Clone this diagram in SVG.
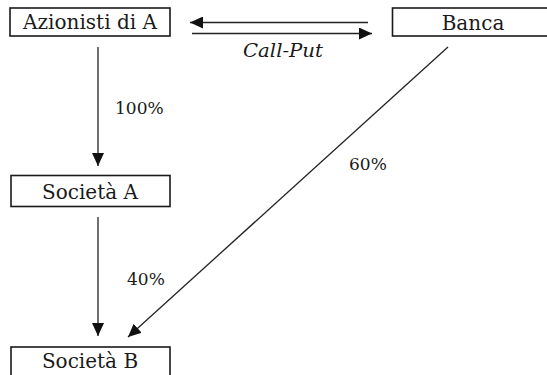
<svg xmlns="http://www.w3.org/2000/svg" width="547" height="375" viewBox="0 0 547 375">
  <style>
    .box { fill: #fff; stroke: #1a1a1a; stroke-width: 1.6; }
    .lbl { font-family: "DejaVu Serif", "Liberation Serif", serif; font-size: 20px; fill: #1a1a1a; }
    .pct { font-family: "DejaVu Serif", "Liberation Serif", serif; font-size: 17px; fill: #1a1a1a; }
    .it { font-family: "DejaVu Serif", "Liberation Serif", serif; font-size: 18px; font-style: italic; fill: #1a1a1a; }
    .edge { stroke: #222; stroke-width: 1.3; fill: none; marker-end: url(#ah); }
  </style>
  <defs>
    <marker id="ah" markerUnits="userSpaceOnUse" markerWidth="14" markerHeight="12" refX="13" refY="6" orient="auto">
      <path d="M0,0 L13,6 L0,12 Z" fill="#111"/>
    </marker>
  </defs>
  <rect width="547" height="375" fill="#fff"/>
  <g id="connectors">
    <line class="edge" x1="368" y1="22.5" x2="190" y2="22.5"/>
    <line class="edge" x1="192" y1="33.5" x2="372" y2="33.5"/>
    <line class="edge" x1="98" y1="47" x2="98" y2="166"/>
    <line class="edge" x1="98" y1="217" x2="98" y2="336"/>
    <line class="edge" x1="448" y1="47" x2="128" y2="337"/>
    <text class="it" x="243" y="57" textLength="80" lengthAdjust="spacingAndGlyphs">Call-Put</text>
    <text class="pct" x="115" y="114">100%</text>
    <text class="pct" x="127" y="285">40%</text>
    <text class="pct" x="349" y="170">60%</text>
  </g>
  <g id="azionisti">
    <rect class="box" x="10" y="8" width="160" height="28"/>
    <text class="lbl" x="90" y="29" text-anchor="middle" textLength="134" lengthAdjust="spacingAndGlyphs">Azionisti di A</text>
  </g>
  <g id="banca">
    <rect class="box" x="392.5" y="8" width="170" height="28"/>
    <text class="lbl" x="473" y="30" text-anchor="middle">Banca</text>
  </g>
  <g id="societaA">
    <rect class="box" x="11" y="175.5" width="159" height="31"/>
    <text class="lbl" x="90" y="199" text-anchor="middle">Società A</text>
  </g>
  <g id="societaB">
    <rect class="box" x="11" y="347" width="159" height="32"/>
    <text class="lbl" x="90" y="368" text-anchor="middle">Società B</text>
  </g>
</svg>
